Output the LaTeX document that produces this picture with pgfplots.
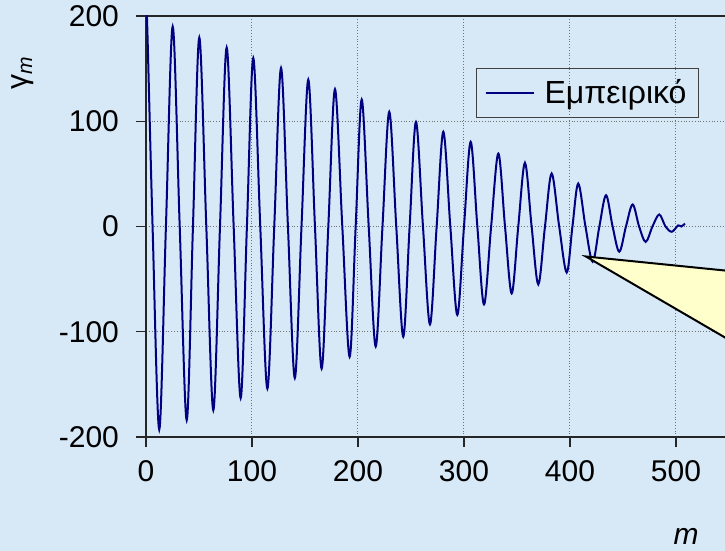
\documentclass[border=0pt]{standalone}
\usepackage{fontspec}
\setmainfont{Liberation Sans}
\usepackage{pgfplots}
\pgfplotsset{compat=1.18}
\definecolor{bg}{RGB}{215,232,246}
\definecolor{navyline}{RGB}{0,0,128}
\definecolor{callout}{RGB}{255,255,204}

\begin{document}
\begin{tikzpicture}
\useasboundingbox (0,0) rectangle (362.5pt,275.5pt);
\fill[bg] (0,0) rectangle (362.5pt,275.5pt);
\clip (0,0) rectangle (362.5pt,275.5pt);
\begin{axis}[
  at={(73pt,57pt)}, anchor=south west,
  scale only axis, width=318pt, height=210.5pt,
  xmin=0, xmax=600, ymin=-200, ymax=200,
  xtick={0,100,...,500}, ytick={-200,-100,...,200},
  xtick pos=bottom, ytick pos=left,
  grid=major,
  major grid style={black!55, densely dotted, line width=0.5pt},
  axis line style={black!85, line width=0.75pt},
  tick style={black!85, line width=0.6pt},
  tick align=outside, major tick length=5pt,
  tick label style={font=\fontsize{15}{18}\selectfont},
  xticklabel style={yshift=-3pt},
  yticklabel style={xshift=-5pt},
  /pgf/number format/assume math mode=true,
  /pgf/number format/1000 sep={},
  legend style={at={(0.519,0.876)}, anchor=north west, draw=black!75, fill=none,
    line width=0.5pt, font=\fontsize{16}{19}\selectfont,
    inner xsep=4pt, inner ysep=3.5pt},
  legend image code/.code={\draw[#1] (0pt,0pt) -- (24pt,0pt); \path (27pt,0pt);},
]
\addplot[navyline, line width=1pt, smooth, tension=0.55] coordinates {
(0,200) (1,196) (6.2,0) (12.5,-193) (18.8,0) (25.2,190) (31.8,0) (38.4,-184)
(44.3,0) (50.3,179.5) (56.9,0) (63.5,-174.5) (69.8,0) (76.1,170) (82.7,0)
(89.3,-163) (95.2,0) (101.2,160) (107.8,0) (114.5,-154) (121,0) (127.4,150.7)
(133.9,0) (140.4,-144) (146.7,0) (153.1,139.6) (159.4,0) (165.7,-135) (172,0)
(178.3,130.4) (185.2,0) (192.1,-123.8) (197.8,0) (203.5,120.6) (210.1,0)
(216.7,-114) (223.1,0) (229.5,109) (236.1,0) (242.7,-104.7) (248.7,0)
(254.7,99.4) (261.3,0) (267.9,-93) (274.2,0) (280.5,90) (287.1,0) (293.7,-84)
(300,0) (306.3,80.4) (312.6,0) (318.9,-74) (325.6,0) (332.4,69.3) (338.7,0)
(345,-63.6) (351.2,0) (357.5,60.5) (363.8,0) (370.1,-55) (376.4,0) (382.7,50.3)
(389.8,0) (396.9,-43.7) (402.3,0) (407.8,40.8) (414.6,0) (421.4,-33.5)
(427.7,0) (434,29.7) (440.2,0) (446.5,-24) (452.8,0) (459.1,20.9) (465.2,0)
(471.4,-14.6) (477.8,0) (484.2,11.4) (490.1,0) (496,-5) (502,1) (505,0)
(508.5,2.8)
};
\addlegendentry{Εμπειρικό}
\draw[black, line width=1pt, fill=callout]
  (axis cs:415,-28.5) -- (axis cs:600,-47.3) -- (axis cs:600,-137) -- cycle;
\end{axis}
\node[rotate=90, font=\fontsize{15}{18}\selectfont] at (11.5pt,239.25pt)
  {γ\textsubscript{\itshape m}};
\node[font=\fontsize{15}{18}\selectfont\itshape] at (343pt,7.5pt) {m};
\end{tikzpicture}
\end{document}
